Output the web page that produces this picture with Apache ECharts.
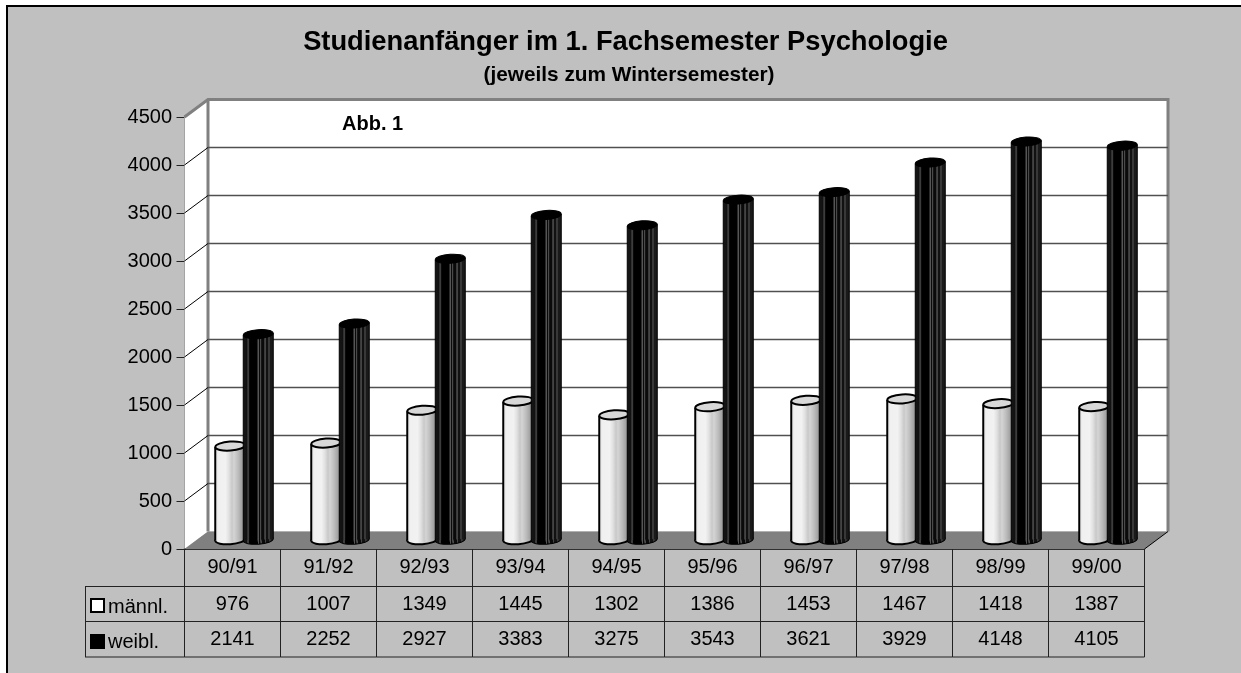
<!DOCTYPE html>
<html>
<head>
<meta charset="utf-8">
<style>html,body{margin:0;padding:0;background:#fff}#c{width:1241px;height:673px}</style>
<script src="https://cdn.jsdelivr.net/npm/echarts@6/dist/echarts.min.js"></script>
</head>
<body>
<div id="c"></div>
<script>
var titleText = 'Studienanfänger im 1. Fachsemester Psychologie';
var subtitleText = '(jeweils zum Wintersemester)';
var noteText = 'Abb. 1';
var categories = ['90/91','91/92','92/93','93/94','94/95','95/96','96/97','97/98','98/99','99/00'];
var maleName = 'männl.';
var femaleName = 'weibl.';
var maleValues = [976,1007,1349,1445,1302,1386,1453,1467,1418,1387];
var femaleValues = [2141,2252,2927,3383,3275,3543,3621,3929,4148,4105];
var yTicks = [0,500,1000,1500,2000,2500,3000,3500,4000,4500];

var FONT = '"Liberation Sans", Arial, sans-serif';
var DX = 23.5, DY = 17.5;
var RY = 4.5, RX = 15, TILT = 0.07;

var maleFill = {type:'linear',x:0,y:0,x2:1,y2:0,colorStops:[
  {offset:0,color:'#dedede'},{offset:0.1,color:'#f0f0f0'},{offset:0.34,color:'#f2f2f2'},
  {offset:0.46,color:'#e0e0e0'},{offset:0.56,color:'#c8c8c8'},{offset:0.62,color:'#d4d4d4'},
  {offset:0.76,color:'#bdbdbd'},{offset:0.88,color:'#a4a4a4'},{offset:1,color:'#989898'}]};
var femaleFill = {type:'linear',x:0,y:0,x2:1,y2:0,colorStops:[
  {offset:0,color:'#161616'},{offset:0.12,color:'#111'},{offset:0.15,color:'#3c3c3c'},{offset:0.2,color:'#3c3c3c'},
  {offset:0.21,color:'#000'},{offset:0.47,color:'#000'},{offset:0.48,color:'#555'},{offset:0.51,color:'#555'},
  {offset:0.52,color:'#0a0a0a'},{offset:0.56,color:'#0a0a0a'},{offset:0.57,color:'#4a4a4a'},{offset:0.6,color:'#4a4a4a'},
  {offset:0.61,color:'#0a0a0a'},{offset:0.7,color:'#0a0a0a'},{offset:0.71,color:'#444'},{offset:0.75,color:'#444'},
  {offset:0.76,color:'#111'},{offset:0.83,color:'#111'},{offset:0.84,color:'#383838'},{offset:0.89,color:'#383838'},
  {offset:0.9,color:'#1a1a1a'},{offset:1,color:'#1a1a1a'}]};

function cylinder(shift, fill, topFill, edge, edgeWidth) {
  return function (params, api) {
    var base = api.coord([api.value(0), 0]);
    var top = api.coord([api.value(0), api.value(1)]);
    var cx = base[0] + DX / 2 + shift;
    var yb = base[1] - DY / 2 - 0.5;
    var yt = top[1] - DY / 2 - 0.5;
    var st = {stroke: edge, lineWidth: edgeWidth};
    var lift = RX * Math.sin(TILT);
    return {type:'group', children:[
      {type:'ellipse', x:cx, y:yb, rotation:TILT, shape:{cx:0,cy:0,rx:RX,ry:RY},
       style:{fill:fill, stroke:edge, lineWidth:edgeWidth}},
      {type:'polygon', shape:{points:[[cx-RX,yt+lift],[cx+RX,yt-lift],[cx+RX,yb-lift],[cx-RX,yb+lift]]},
       style:{fill:fill}},
      {type:'line', shape:{x1:cx-RX,y1:yt+lift,x2:cx-RX,y2:yb+lift}, style:st},
      {type:'line', shape:{x1:cx+RX,y1:yt-lift,x2:cx+RX,y2:yb-lift}, style:st},
      {type:'ellipse', x:cx, y:yt, rotation:TILT, shape:{cx:0,cy:0,rx:RX,ry:RY},
       style:{fill:topFill, stroke:edge, lineWidth:edgeWidth}}
    ]};
  };
}

function renderWalls(params, api) {
  var w = api.size([1,0])[0];
  var p0 = api.coord([0,0]);
  var pT = api.coord([0,yTicks[yTicks.length-1]]);
  var L = p0[0] - w/2, R = L + w*categories.length, B = p0[1], T = pT[1];
  var wall = '#808080';
  return {type:'group', children:[
    {type:'polygon', shape:{points:[[L,T],[L+DX,T-DY],[L+DX,B-DY],[L,B]]}, style:{fill:'#fff'}},
    {type:'rect', shape:{x:L+DX,y:T-DY,width:R-L,height:B-T}, style:{fill:'#fff'}},
    {type:'polygon', shape:{points:[[L,B],[L+DX,B-DY],[R+DX,B-DY],[R,B]]}, style:{fill:wall}},
    {type:'polyline', shape:{points:[[L,T],[L+DX,T-DY],[R+DX,T-DY],[R+DX,B-DY]]}, style:{fill:'none',stroke:wall,lineWidth:3}},
    {type:'line', shape:{x1:L+DX,y1:T-DY,x2:L+DX,y2:B-DY}, style:{stroke:wall,lineWidth:3}},
    {type:'line', shape:{x1:R,y1:B,x2:R+DX,y2:B-DY}, style:{stroke:'#000',lineWidth:1}}
  ]};
}

function renderGridLine(params, api) {
  var w = api.size([1,0])[0];
  var p = api.coord([0, api.value(1)]);
  var L = p[0] - w/2, R = L + w*categories.length, y = p[1];
  if (api.value(1) === 0 || api.value(1) === yTicks[yTicks.length-1]) return {type:'group',children:[]};
  return {type:'group', children:[
    {type:'line', shape:{x1:L,y1:y,x2:L+DX,y2:y-DY}, style:{stroke:'#000',lineWidth:1}},
    {type:'line', shape:{x1:L+DX,y1:y-DY,x2:R+DX,y2:y-DY}, style:{stroke:'#505050',lineWidth:1.5}}
  ]};
}

var ROW1 = 586.5, ROW2 = 621.5, ROW3 = 657;
function renderTable(params, api) {
  var i = api.value(0);
  var w = api.size([1,0])[0];
  var p = api.coord([i,0]);
  var L = p[0]-w/2, R = p[0]+w/2, B = p[1];
  var ln = {stroke:'#222',lineWidth:1};
  var txt = function(v,y){return {type:'text',x:p[0],y:y,style:{text:String(v),fill:'#000',font:'20px '+FONT,textAlign:'center',textVerticalAlign:'middle'}};};
  var kids = [
    {type:'line',shape:{x1:R,y1:B,x2:R,y2:ROW3},style:ln},
    {type:'line',shape:{x1:L,y1:ROW1,x2:R,y2:ROW1},style:ln},
    {type:'line',shape:{x1:L,y1:ROW2,x2:R,y2:ROW2},style:ln},
    {type:'line',shape:{x1:L,y1:ROW3,x2:R,y2:ROW3},style:ln},
    txt(api.value(1),604), txt(api.value(2),639.5)
  ];
  if (i === 0) kids.push({type:'line',shape:{x1:L,y1:B,x2:L,y2:ROW3},style:ln});
  return {type:'group',children:kids};
}

var xIdx = categories.map(function(c,i){return i;});
var option = {
  animation:false,
  backgroundColor:'#fff',
  textStyle:{fontFamily:FONT},
  title:[
    {text:titleText,left:620.5,top:24,textAlign:'center',textStyle:{fontFamily:FONT,fontSize:27.3,fontWeight:'bold',color:'#000'}},
    {text:subtitleText,left:624,top:60,textAlign:'center',textStyle:{fontFamily:FONT,fontSize:20.8,fontWeight:'bold',color:'#000'}},
    {text:noteText,left:337,top:109,textStyle:{fontFamily:FONT,fontSize:20,fontWeight:'bold',color:'#000'}}
  ],
  grid:{left:184.5,top:117,width:960,height:432,containLabel:false},
  xAxis:{type:'category',data:categories,
    axisLine:{show:true,lineStyle:{color:'#000',width:1.5}},axisTick:{show:false},
    axisLabel:{color:'#000',fontSize:20,fontFamily:FONT,margin:8,interval:0},splitLine:{show:false}},
  yAxis:{type:'value',min:0,max:4500,interval:500,
    axisLine:{show:true,lineStyle:{color:'#222',width:1.5}},
    axisTick:{show:true,length:8,lineStyle:{color:'#222',width:1}},
    axisLabel:{color:'#000',fontSize:20,fontFamily:FONT,margin:12.5,formatter:function(v){return String(v);}},splitLine:{show:false}},
  graphic:{elements:[
    {type:'rect',z:-10,silent:true,shape:{x:7,y:6,width:1400,height:900},style:{fill:'#c0c0c0',stroke:'#000',lineWidth:2}},
    {type:'line',z:10,shape:{x1:85,y1:586.5,x2:184.5,y2:586.5},style:{stroke:'#222',lineWidth:1}},
    {type:'line',z:10,shape:{x1:85,y1:621.5,x2:184.5,y2:621.5},style:{stroke:'#222',lineWidth:1}},
    {type:'line',z:10,shape:{x1:85,y1:657,x2:184.5,y2:657},style:{stroke:'#222',lineWidth:1}},
    {type:'line',z:10,shape:{x1:85.5,y1:586.5,x2:85.5,y2:657},style:{stroke:'#222',lineWidth:1}},
    {type:'rect',z:10,shape:{x:91,y:599,width:13,height:13},style:{fill:'#fff',stroke:'#000',lineWidth:2}},
    {type:'rect',z:10,shape:{x:90,y:634,width:15,height:15},style:{fill:'#000'}},
    {type:'text',z:10,x:108,y:607,style:{text:maleName,fill:'#000',font:'20px '+FONT,textVerticalAlign:'middle'}},
    {type:'text',z:10,x:108,y:642,style:{text:femaleName,fill:'#000',font:'20px '+FONT,textVerticalAlign:'middle'}}
  ]},
  series:[
    {type:'custom',name:'walls',z:1,silent:true,renderItem:renderWalls,data:[[0,0]],encode:{x:0,y:1},clip:false},
    {type:'custom',name:'grid',z:1.5,silent:true,renderItem:renderGridLine,data:yTicks.map(function(v){return [0,v];}),encode:{x:0,y:1},clip:false},
    {type:'custom',name:maleName,z:3,renderItem:cylinder(-14,maleFill,'#d8d8d8','#000',2),
      data:xIdx.map(function(i){return [i,maleValues[i]];}),encode:{x:0,y:1},clip:false},
    {type:'custom',name:femaleName,z:4,renderItem:cylinder(14,femaleFill,'#000','#000',1),
      data:xIdx.map(function(i){return [i,femaleValues[i]];}),encode:{x:0,y:1},clip:false},
    {type:'custom',name:'table',z:5,silent:true,renderItem:renderTable,
      data:xIdx.map(function(i){return [i,maleValues[i],femaleValues[i]];}),encode:{x:0,y:-1},clip:false}
  ]
};
echarts.init(document.getElementById('c')).setOption(option);
</script>
</body>
</html>
